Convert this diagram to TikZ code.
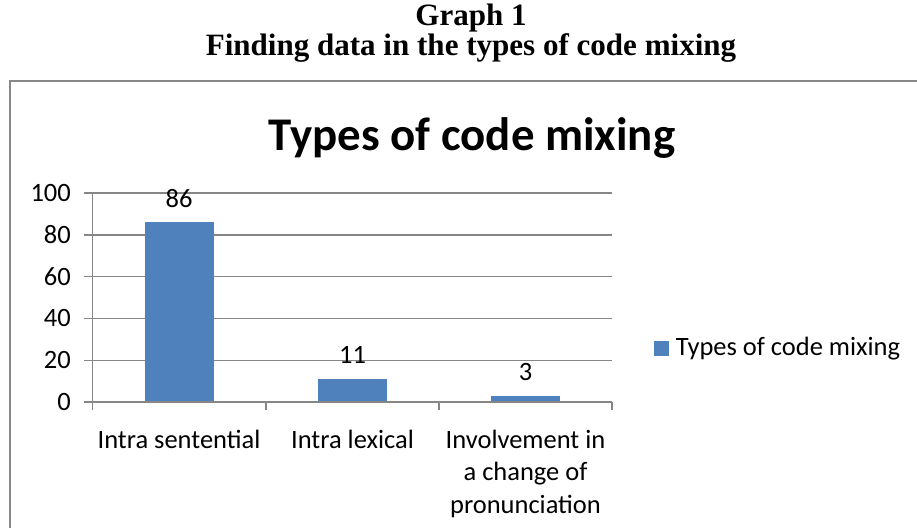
\documentclass[tikz,border=0pt]{standalone}
\usepackage{fontspec}
\setmainfont{Liberation Serif}
\newfontfamily\chartfont{Carlito}
\usetikzlibrary{positioning}
\definecolor{barcol}{HTML}{4F81BD}
\definecolor{gridcol}{HTML}{868686}
\definecolor{framecol}{HTML}{888888}
\tikzset{
  headtext/.style={font=\fontsize{26.5}{30}\selectfont\bfseries, inner sep=0pt},
  charttitle/.style={font=\chartfont\bfseries\fontsize{40}{48}\selectfont, inner sep=0pt},
  ticktext/.style={font=\chartfont\fontsize{22.6}{27.5}\selectfont, inner sep=0pt},
  gridline/.style={draw=gridcol, line width=1.2pt},
  databar/.style={fill=barcol, draw=none},
  legkey/.style={fill=barcol, draw=none, inner sep=0pt, minimum size=0.43cm},
}

\begin{document}
\begin{tikzpicture}[x=0.03cm, y=-0.03cm]
  \useasboundingbox (0,0) rectangle (917,528);
  % heading above the chart
  \node[headtext] (graphno)  at (471,18) {Graph 1};
  \node[headtext] (graphcap) at (471,48) {Finding data in the types of code mixing};
  % chart frame, runs off the page
  \draw[framecol, line width=1.6pt] (10,528) -- (10,81) -- (917,81);
  \node[charttitle] (title) at (472,138) {Types of code mixing};
  % grid and value axis
  \foreach \v in {20,40,...,100} {
    \draw[gridline] (84,{402-2.09*\v}) -- (612,{402-2.09*\v});
  }
  \foreach \v in {0,20,...,100} {
    \node[ticktext, anchor=east] (ytick\v) at (71,{402-2.09*\v}) {\v};
  }
  % bars with their values
  \foreach \cx/\v/\nm in {179/86/sent, 352.5/11/lex, 525.5/3/pron} {
    \fill[databar] ({\cx-34.5},402) rectangle ({\cx+34.5},{402-2.09*\v});
    \node[ticktext] (val\nm) at (\cx,{402-2.09*\v-24}) {\v};
  }
  % category axis
  \draw[gridline] (84,402) -- (612,402);
  \draw[gridline] (92.7,193) -- (92.7,402);
  \foreach \x in {92.7,265.8,438.9,612} {
    \draw[gridline] (\x,402) -- (\x,410);
  }
  \node[ticktext, anchor=north] (catsent) at (179,430) {Intra sentential};
  \node[ticktext, anchor=north] (catlex)  at (352.5,430) {Intra lexical};
  \node[ticktext, anchor=north, align=center] (catpron) at (525.5,430)
    {Involvement in\\a change of\\pronunciation};
  % legend
  \node[legkey] (key) at (661.5,348.5) {};
  \node[ticktext, right=0.2cm of key] (keytext) {Types of code mixing};
\end{tikzpicture}
\end{document}
